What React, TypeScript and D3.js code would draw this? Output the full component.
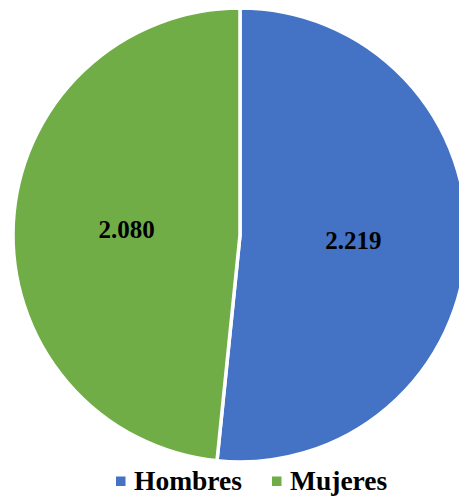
import React from "react";
import * as d3 from "d3";

const categories = ["Hombres", "Mujeres"];
const values = [2219, 2080];
const labels = ["2.219", "2.080"];
const colors = ["#4472C4", "#70AD47"];

const W = 459;
const H = 497;
const cx = 240;
const cy = 235;
const R = 227;

export default function App() {
  const data = categories.map((c, i) => ({ c, v: values[i], label: labels[i], color: colors[i] }));
  const pie = d3.pie<any>().value((d) => d.v).sort(null);
  const arcs = pie(data);
  const arc = d3.arc<any>().innerRadius(0).outerRadius(R);
  const legendX = [116, 272];
  return (
    <svg
      width={W}
      height={H}
      style={{ position: "absolute", left: 0, top: 0, background: "#fff" }}
      fontFamily="'Liberation Serif', 'Times New Roman', serif"
    >
      <g transform={`translate(${cx},${cy})`}>
        {arcs.map((a, i) => (
          <path key={i} d={arc(a) || ""} fill={a.data.color} stroke="#fff" strokeWidth={3.5} strokeLinejoin="round" />
        ))}
        {arcs.map((a, i) => {
          const [x, y] = arc.centroid(a);
          return (
            <text key={"t" + i} x={x} y={y} textAnchor="middle" dominantBaseline="central" fontSize={25} fontWeight="bold" fill="#000">
              {a.data.label}
            </text>
          );
        })}
      </g>
      {data.map((d, i) => (
        <g key={"l" + i}>
          <rect x={legendX[i]} y={476.5} width={9.5} height={9.5} fill={d.color} />
          <text x={legendX[i] + 18} y={490} fontSize={27.5} fontWeight="bold" fill="#000">
            {d.c}
          </text>
        </g>
      ))}
    </svg>
  );
}
